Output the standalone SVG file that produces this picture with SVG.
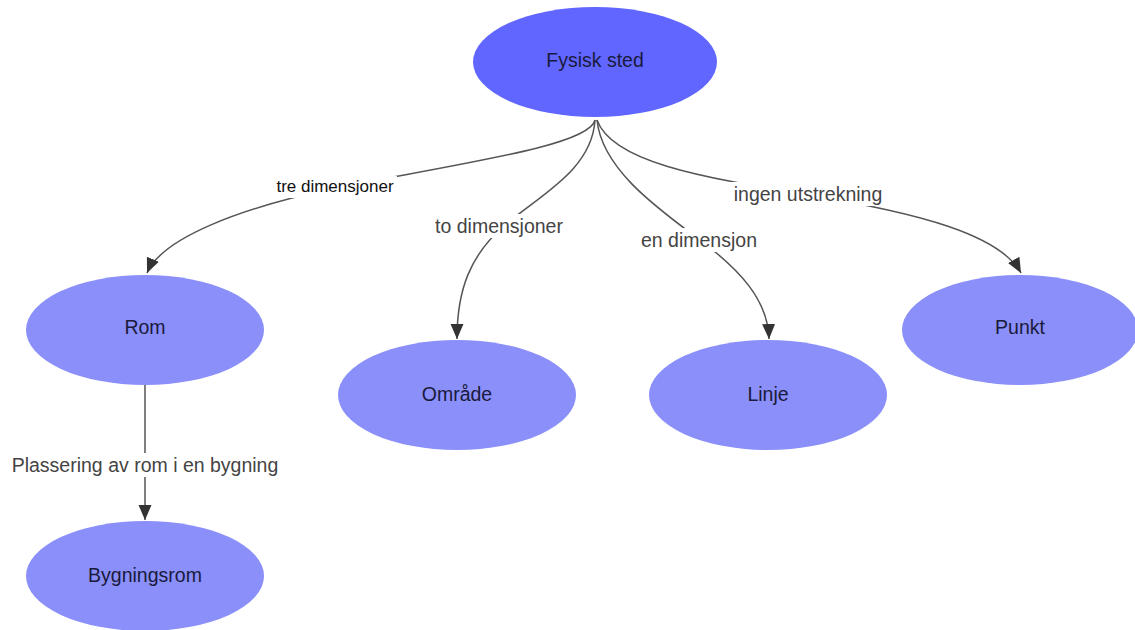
<svg xmlns="http://www.w3.org/2000/svg" width="1135" height="630" viewBox="0 0 1135 630">
  <style>
    .node { fill: #8a8ff9; }
    .root { fill: #6066ff; }
    .ntext { font-family: "Liberation Sans", Arial, sans-serif; font-size: 19.5px; fill: #1a1a3c; text-anchor: middle; dominant-baseline: central; }
    .edge { fill: none; stroke: #555; stroke-width: 1.5; marker-end: url(#arrow); }
    .lbg { fill: #fff; }
    .ltext { font-family: "Liberation Sans", Arial, sans-serif; font-size: 19.5px; fill: #444; text-anchor: middle; dominant-baseline: central; }
  </style>
  <defs>
    <marker id="arrow" markerUnits="userSpaceOnUse" markerWidth="16" markerHeight="14" refX="15" refY="6.5" orient="auto">
      <path d="M0,0 L15,6.5 L0,13 z" fill="#333"/>
    </marker>
  </defs>
  <rect width="1135" height="630" fill="#fff"/>

  <g id="connectors">
    <path class="edge" d="M595,120 C590,145 470,162 335,188 C240,208 162,238 147,273"/>
    <path class="edge" d="M595,120 C592,170 540,195 505,225 C470,255 457,290 457,339"/>
    <path class="edge" d="M597,120 C602,170 660,210 700,240 C740,270 768,300 769,339"/>
    <path class="edge" d="M597,120 C612,162 700,177 808,195 C920,213 1000,235 1021,273"/>
    <path class="edge" d="M145,385 L145,520"/>

    <rect class="lbg" x="273" y="176" width="124" height="22"/>
    <text class="ltext" x="335" y="186" style="font-size:17px;fill:#111">tre dimensjoner</text>
    <rect class="lbg" x="433" y="214" width="132" height="24"/>
    <text class="ltext" x="499" y="226">to dimensjoner</text>
    <rect class="lbg" x="639" y="228" width="120" height="24"/>
    <text class="ltext" x="699" y="240">en dimensjon</text>
    <rect class="lbg" x="730" y="182" width="156" height="24"/>
    <text class="ltext" x="808" y="194">ingen utstrekning</text>
    <rect class="lbg" x="9" y="453" width="272" height="24"/>
    <text class="ltext" x="145" y="465">Plassering av rom i en bygning</text>
  </g>

  <g id="fysisk-sted">
    <ellipse class="root" cx="595" cy="62" rx="122" ry="55"/>
    <text class="ntext" x="595" y="60">Fysisk sted</text>
  </g>
  <g id="rom">
    <ellipse class="node" cx="145" cy="330" rx="119" ry="55"/>
    <text class="ntext" x="145" y="327">Rom</text>
  </g>
  <g id="omrade">
    <ellipse class="node" cx="457" cy="395" rx="119" ry="55"/>
    <text class="ntext" x="457" y="394">Område</text>
  </g>
  <g id="linje">
    <ellipse class="node" cx="768" cy="395" rx="119" ry="55"/>
    <text class="ntext" x="768" y="394">Linje</text>
  </g>
  <g id="punkt">
    <ellipse class="node" cx="1020" cy="330" rx="118" ry="55"/>
    <text class="ntext" x="1020" y="327">Punkt</text>
  </g>
  <g id="bygningsrom">
    <ellipse class="node" cx="145" cy="576" rx="119" ry="55"/>
    <text class="ntext" x="145" y="575">Bygningsrom</text>
  </g>
</svg>
